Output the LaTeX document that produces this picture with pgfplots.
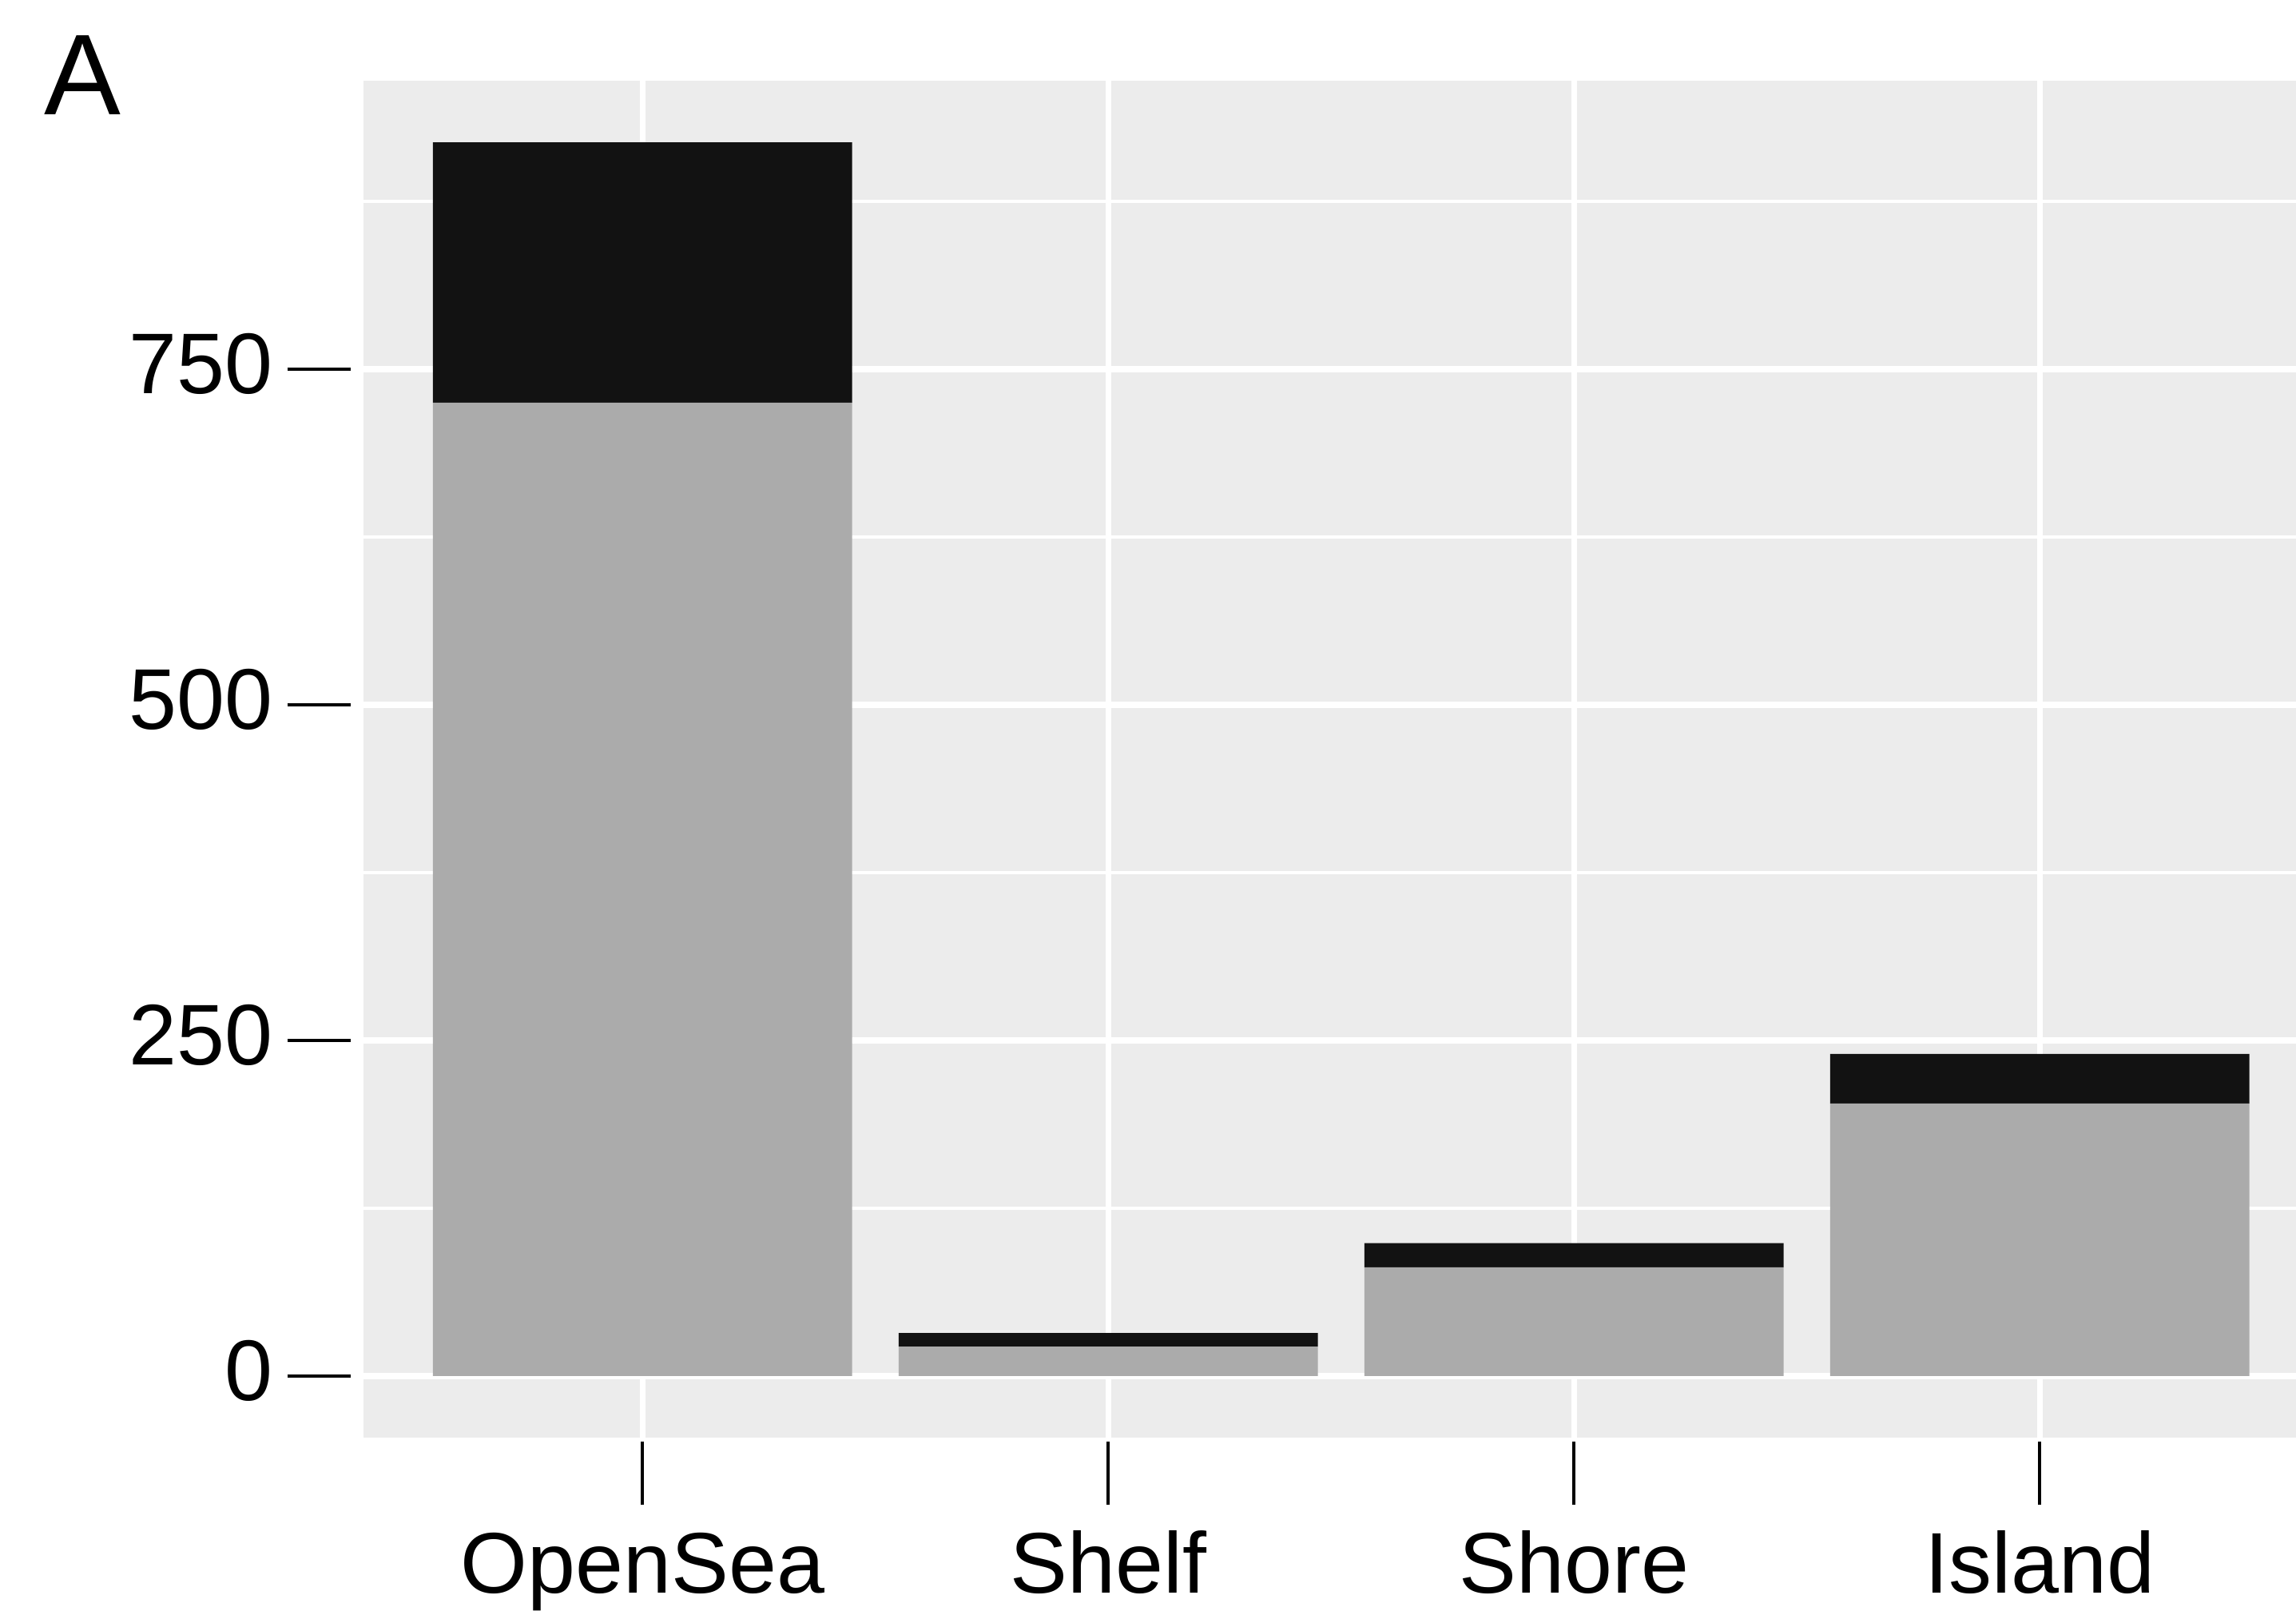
\documentclass[border=0pt]{standalone}
\usepackage{fontspec}
\setmainfont{Liberation Sans}
\usepackage{pgfplots}
\pgfplotsset{compat=1.18}
\definecolor{panel}{HTML}{ECECEC}
\definecolor{lowgray}{HTML}{ABABAB}
\definecolor{topblack}{HTML}{121212}

\begin{document}
\begin{tikzpicture}
\begin{axis}[
  scale only axis, width=336.75pt, height=236.4pt,
  xmin=-0.6, xmax=3.55, ymin=-46, ymax=965,
  ybar stacked, bar width=0.9,
  axis background/.style={fill=panel},
  axis line style={draw=none},
  xtick=data, xticklabels={OpenSea,Shelf,Shore,Island},
  ytick={0,250,500,750}, yticklabels={0,250,500,750},
  minor ytick={125,375,625,875},
  xmajorgrids, ymajorgrids, yminorgrids,
  major grid style={white, line width=1pt},
  minor grid style={white, line width=0.55pt},
  tick align=inside, xtick pos=left, ytick pos=left,
  major tick length=11pt, minor tick length=0pt,
  tick style={black, line width=0.55pt},
  xtick style={yshift=-11.7pt},
  ytick style={xshift=-13.2pt},
  ticklabel style={font=\fontsize{15}{18}\selectfont},
  xticklabel style={anchor=base, yshift=-27pt},
  yticklabel style={anchor=base east, inner sep=0pt, xshift=-15.6pt, yshift=-4.2pt},
]
% lower (grey) and upper (black) parts of each stack
\addplot[fill=lowgray, draw=none] coordinates {(0,725) (1,22) (2,81) (3,203)};
\addplot[fill=topblack, draw=none] coordinates {(0,194) (1,10) (2,18) (3,37)};
\coordinate (sw) at (rel axis cs:0,0);
\coordinate (ne) at (rel axis cs:1,1);
\end{axis}
\node[anchor=base west, inner sep=0pt, font=\fontsize{20}{24}\selectfont] at ([shift={(-55.8pt,230.45pt)}]sw) {A};
\pgfresetboundingbox
\path[use as bounding box] ([shift={(-63.26pt,-32.18pt)}]sw) rectangle ([yshift=14.03pt]ne);
\end{tikzpicture}
\end{document}
